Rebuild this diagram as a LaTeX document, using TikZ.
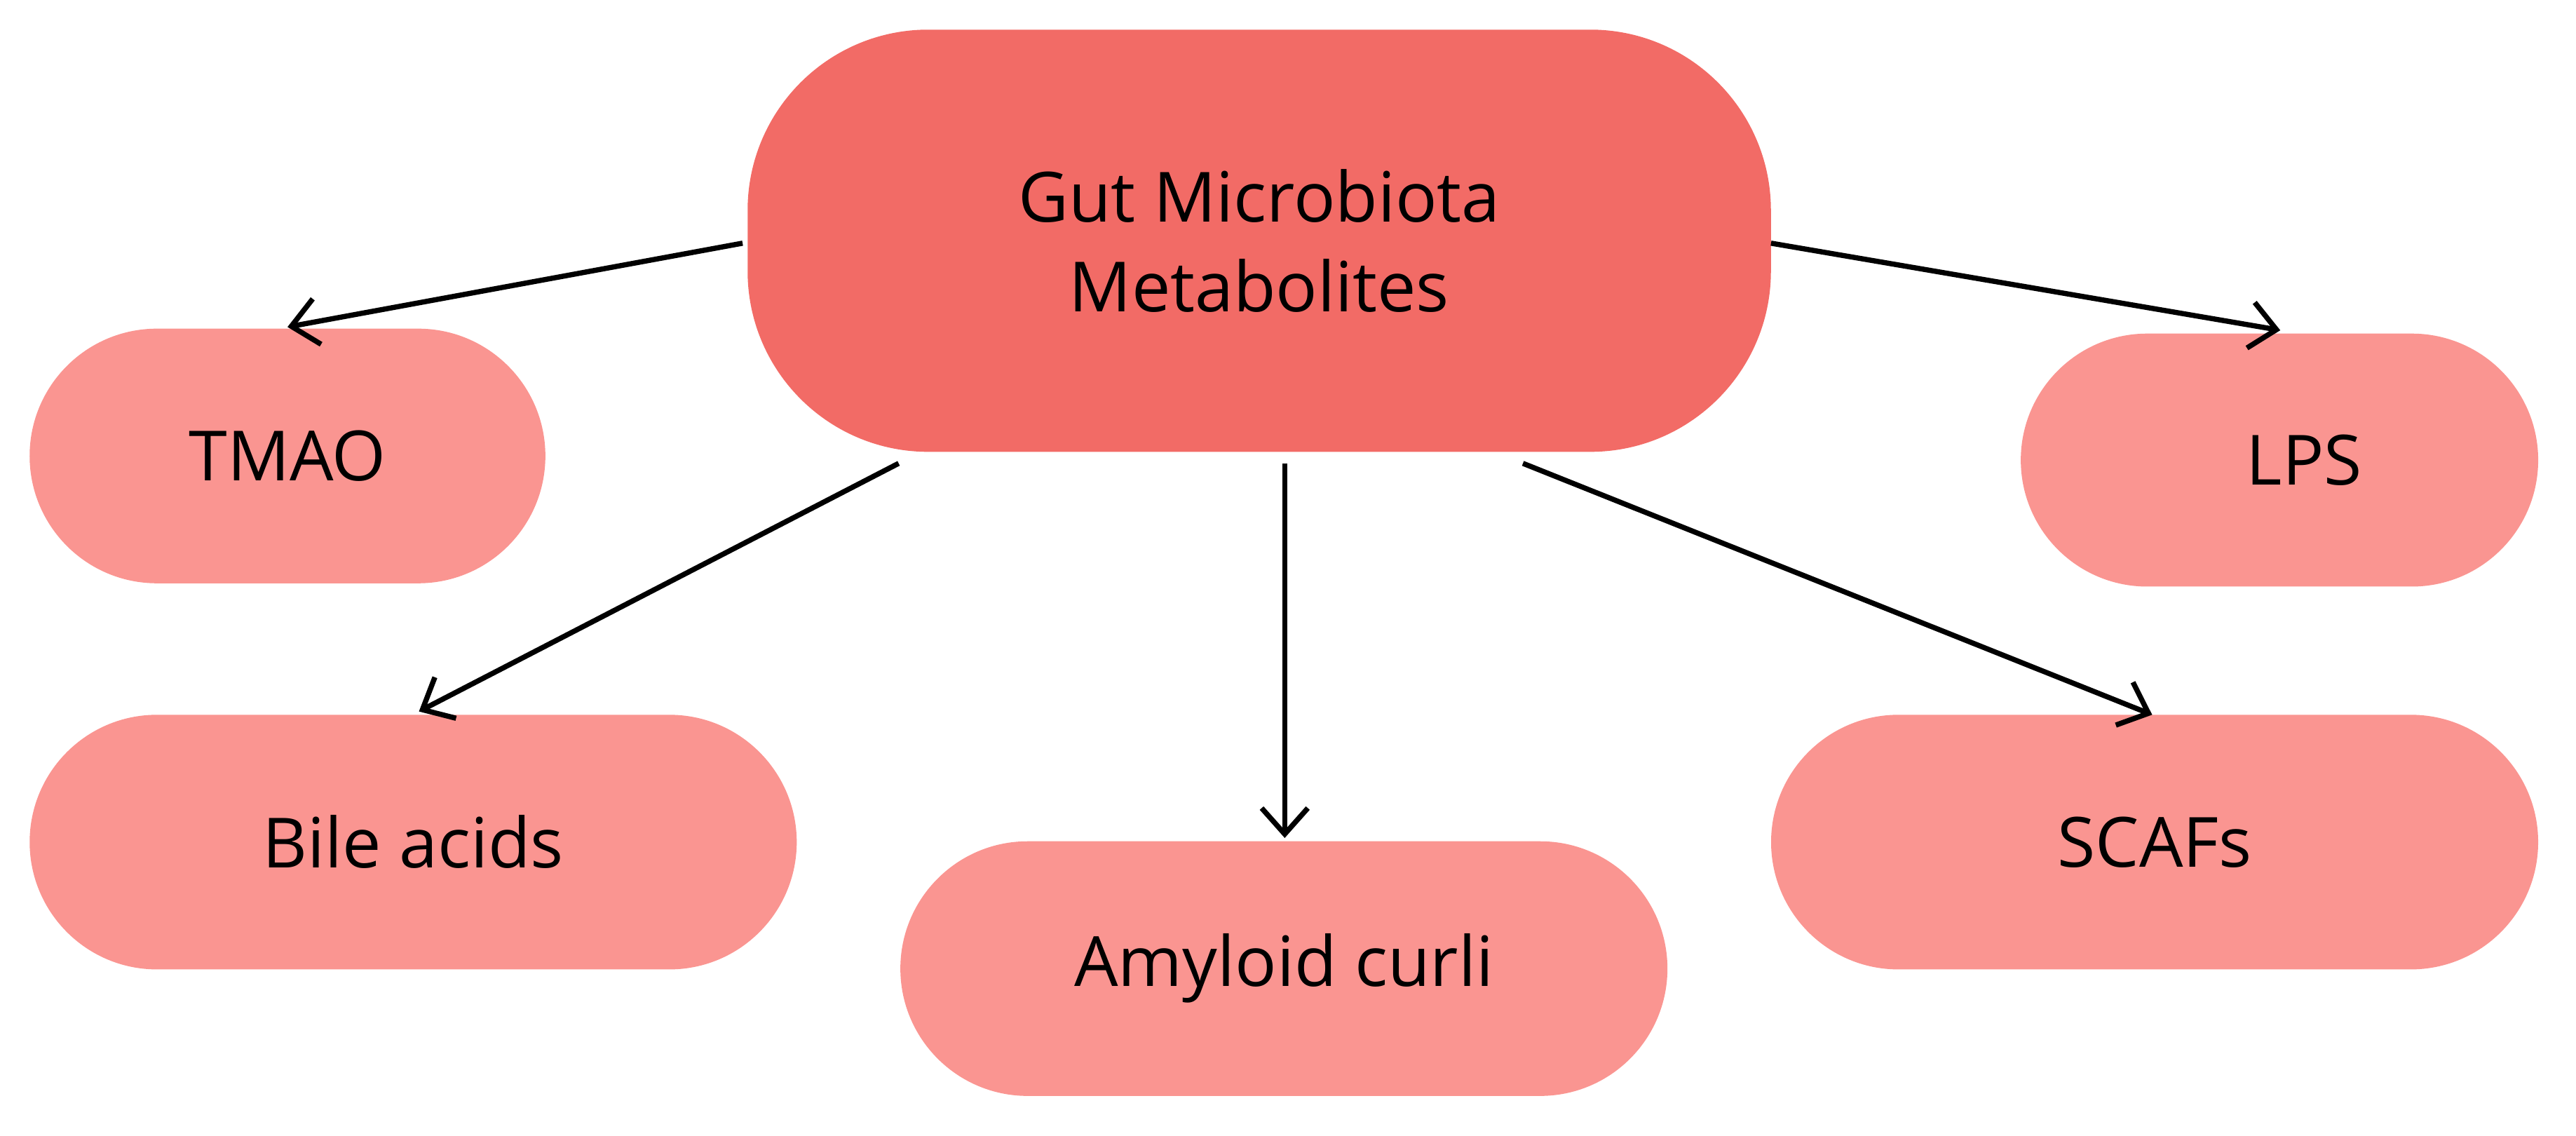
\documentclass[tikz,border=0pt]{standalone}
\usepackage{fontspec}
\setmainfont{Open Sans}
\usetikzlibrary{arrows.meta}
\definecolor{mainc}{HTML}{F26B66}
\definecolor{subc}{HTML}{FA9591}
\tikzset{
  box/.style={fill=#1,rounded corners=2.2cm,inner sep=0pt,font=\fontsize{24}{31}\selectfont,align=center},
  arr/.style={line width=1.8pt,-{Straight Barb[length=9pt,width=16pt,line width=1.8pt]}}
}
\begin{document}
\begin{tikzpicture}[x=0.02cm,y=-0.02cm]
\useasboundingbox (0,0) rectangle (1568,691);
\node[box=mainc,minimum width=12.46cm,minimum height=5.14cm] (m) at (766.5,146.5) {Gut Microbiota\\Metabolites};
\node[box=subc,minimum width=6.28cm,minimum height=3.1cm,rounded corners=1.55cm] (t) at (175,277.5) {TMAO};
\node[box=subc,minimum width=6.3cm,minimum height=3.08cm,rounded corners=1.54cm] (l) at (1387.5,280) {\hspace*{0.6cm}LPS};
\node[box=subc,minimum width=9.34cm,minimum height=3.1cm,rounded corners=1.55cm] (b) at (251.5,512.5) {Bile acids};
\node[box=subc,minimum width=9.34cm,minimum height=3.1cm,rounded corners=1.55cm] (a) at (781.5,589.5) {Amyloid curli};
\node[box=subc,minimum width=9.34cm,minimum height=3.1cm,rounded corners=1.55cm] (s) at (1311.5,512.5) {SCAFs};
\coordinate (m1) at (452,148); \coordinate (m2) at (1078,148);
\coordinate (m3) at (547,282); \coordinate (m4) at (782,282); \coordinate (m5) at (927,282);
\coordinate (t1) at (175,199); \coordinate (l1) at (1388,201);
\coordinate (b1) at (255,433); \coordinate (a1) at (782,510); \coordinate (s1) at (1310,435);
\draw[arr] (m1) -- (t1);
\draw[arr] (m2) -- (l1);
\draw[arr] (m3) -- (b1);
\draw[arr] (m4) -- (a1);
\draw[arr] (m5) -- (s1);
\end{tikzpicture}
\end{document}
